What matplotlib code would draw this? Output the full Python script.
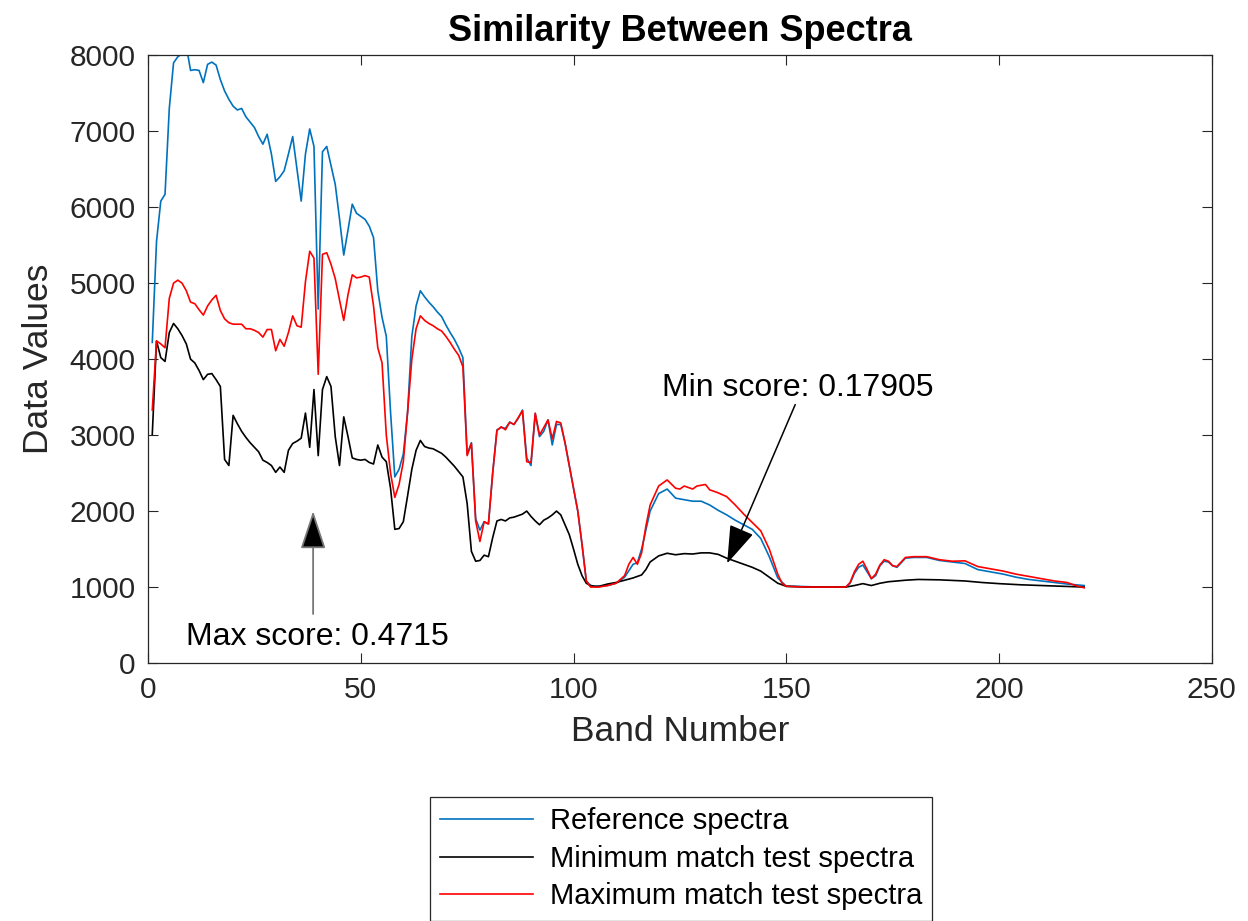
import matplotlib
matplotlib.use("Agg")
import matplotlib.pyplot as plt

# band numbers 1..104 share one grid, the flat tail is kept sparser
bands_head = list(range(1, 105))

ref_head = [
    4220, 5550, 6080, 6170, 7300, 7900, 7980, 8020, 8120, 7800,
    7810, 7800, 7640, 7880, 7910, 7870, 7680, 7530, 7420, 7330,
    7280, 7300, 7190, 7120, 7050, 6930, 6830, 6960, 6700, 6340,
    6400, 6480, 6700, 6930, 6500, 6080, 6700, 7030, 6800, 4660,
    6730, 6800, 6550, 6300, 5850, 5370, 5700, 6040, 5920, 5880,
    5840, 5750, 5600, 4900, 4550, 4300, 3300, 2450, 2550, 2750,
    3300, 4300, 4700, 4900, 4820, 4750, 4690, 4620, 4560, 4450,
    4350, 4260, 4150, 4020, 2750, 2900, 1900, 1750, 1860, 1830,
    2500, 3070, 3100, 3090, 3170, 3140, 3220, 3330, 2700, 2600,
    3280, 2980, 3050, 3200, 2870, 3140, 3140, 2900, 2600, 2300,
    2000, 1560, 1080, 1020,
]
min_head = [
    3010, 4240, 4020, 3970, 4350, 4470, 4400, 4310, 4200, 4000,
    3950, 3850, 3730, 3800, 3810, 3730, 3640, 2680, 2600, 3260,
    3150, 3050, 2970, 2900, 2840, 2780, 2670, 2640, 2600, 2510,
    2580, 2510, 2800, 2890, 2920, 2960, 3290, 2840, 3600, 2730,
    3600, 3770, 3640, 2980, 2600, 3240, 2980, 2700, 2680, 2670,
    2680, 2640, 2620, 2870, 2710, 2650, 2300, 1760, 1770, 1860,
    2200, 2550, 2800, 2930, 2850, 2830, 2820, 2790, 2760, 2710,
    2650, 2590, 2520, 2450, 2100, 1470, 1340, 1350, 1420, 1400,
    1650, 1870, 1890, 1870, 1910, 1920, 1940, 1960, 2000, 1930,
    1870, 1820, 1880, 1910, 1950, 2000, 1950, 1820, 1690, 1500,
    1300, 1150, 1050, 1020,
]
max_head = [
    3330, 4240, 4200, 4150, 4800, 5000, 5040, 5000, 4900, 4750,
    4730, 4650, 4580, 4700, 4780, 4840, 4640, 4530, 4480, 4460,
    4460, 4460, 4400, 4400, 4380, 4350, 4290, 4390, 4390, 4110,
    4260, 4170, 4350, 4570, 4440, 4420, 5020, 5420, 5330, 3800,
    5380, 5400, 5250, 5060, 4780, 4510, 4850, 5110, 5070, 5080,
    5100, 5080, 4700, 4150, 3950, 3000, 2500, 2180, 2350, 2650,
    3300, 4000, 4400, 4570, 4510, 4470, 4440, 4400, 4370, 4300,
    4220, 4130, 4050, 3900, 2730, 2890, 1870, 1600, 1860, 1830,
    2500, 3060, 3110, 3070, 3170, 3140, 3230, 3320, 2650, 2640,
    3290, 3000, 3100, 3200, 2950, 3180, 3160, 2900, 2600, 2300,
    2000, 1560, 1080, 1000,
]

ref_tail_bands = [105, 106, 108, 110, 112, 114, 115, 116, 117, 118, 120, 122, 124, 126,
                  128, 130, 132, 134, 136, 138, 140, 142, 144, 146, 148, 150, 152, 155,
                  158, 161, 164, 165, 166, 167, 168, 169, 170, 171, 172, 173, 174, 175,
                  176, 177, 178, 180, 183, 186, 189, 192, 195, 198, 201, 204, 207, 210,
                  213, 216, 218, 220]
ref_tail = [1010, 1010, 1020, 1050, 1130, 1300, 1320, 1500, 1750, 2000, 2230, 2290, 2170, 2150,
            2130, 2130, 2080, 2010, 1950, 1880, 1820, 1760, 1640, 1400, 1120, 1010, 1010, 1005,
            1000, 1000, 1000, 1050, 1180, 1260, 1290, 1200, 1110, 1150, 1280, 1340, 1330, 1280,
            1260, 1320, 1380, 1390, 1390, 1350, 1330, 1310, 1230, 1200, 1170, 1130, 1100, 1080,
            1060, 1040, 1030, 1020]

max_tail_bands = [105, 106, 108, 110, 112, 113, 114, 115, 116, 117, 118, 120, 122, 124, 125,
                  126, 128, 129, 131, 132, 134, 136, 138, 140, 142, 144, 146, 148, 149, 150,
                  152, 155, 158, 161, 164, 165, 166, 167, 168, 169, 170, 171, 172, 173, 174,
                  175, 176, 177, 178, 180, 183, 186, 189, 192, 195, 198, 201, 204, 207, 210,
                  213, 216, 218, 220]
max_tail = [1000, 1000, 1020, 1050, 1150, 1300, 1390, 1300, 1450, 1800, 2080, 2330, 2410, 2300, 2290,
            2330, 2290, 2330, 2350, 2280, 2240, 2190, 2080, 1960, 1850, 1740, 1500, 1170, 1050, 1010,
            1005, 1000, 1000, 1000, 1000, 1060, 1200, 1300, 1340, 1230, 1110, 1170, 1290, 1360, 1340,
            1280, 1270, 1330, 1390, 1400, 1400, 1360, 1340, 1345, 1270, 1240, 1210, 1170, 1140, 1110,
            1080, 1060, 1020, 990]

min_tail_bands = [105, 106, 108, 110, 112, 114, 116, 117, 118, 120, 122, 124, 126, 128, 130,
                  132, 134, 136, 138, 140, 142, 144, 146, 148, 150, 155, 164, 166, 168, 170,
                  172, 174, 178, 181, 186, 192, 196, 200, 205, 210, 215, 220]
min_tail = [1010, 1010, 1040, 1060, 1090, 1120, 1160, 1230, 1330, 1410, 1445, 1425, 1440, 1435, 1450,
            1450, 1430, 1380, 1340, 1300, 1260, 1210, 1130, 1050, 1010, 1000, 1000, 1020, 1045, 1020,
            1050, 1070, 1090, 1100, 1095, 1080, 1060, 1045, 1030, 1020, 1010, 1000]

labels = ["Reference spectra", "Minimum match test spectra", "Maximum match test spectra"]
max_note = "Max score: 0.4715"
min_note = "Min score: 0.17905"

plt.rcParams["font.family"] = ["Liberation Sans", "DejaVu Sans"]
GRAY = "#262626"

fig = plt.figure(figsize=(12.48, 9.21), dpi=100)
ax = fig.add_axes([0.1186, 0.2801, 0.8524, 0.6599])

ax.plot(bands_head + ref_tail_bands, ref_head + ref_tail, color="#0072BD", lw=1.2, label=labels[0])
ax.plot(bands_head + min_tail_bands, min_head + min_tail, color="black", lw=1.2, label=labels[1])
ax.plot(bands_head + max_tail_bands, max_head + max_tail, color="#FF0000", lw=1.2, label=labels[2])

ax.set_xlim(0, 250)
ax.set_ylim(0, 8000)
ax.set_xticks([0, 50, 100, 150, 200, 250])
ax.set_yticks([0, 1000, 2000, 3000, 4000, 5000, 6000, 7000, 8000])
ax.tick_params(direction="in", length=7.5, width=0.8, top=True, right=True,
               labelsize=21.5, colors=GRAY, pad=9)
for s in ax.spines.values():
    s.set_color(GRAY)
    s.set_linewidth(0.9)

ax.set_xlabel("Band Number", fontsize=25.5, color=GRAY, labelpad=8)
ax.set_ylabel("Data Values", fontsize=25.5, color=GRAY, labelpad=10)
ax.set_title("Similarity Between Spectra", fontsize=26, fontweight="bold", color="black", pad=10)

# score annotations
head = "-|>,head_length=1.2,head_width=0.4"
ax.annotate("", xy=(38.8, 2000), xytext=(38.8, 645),
            arrowprops=dict(arrowstyle=head, mutation_scale=20,
                            edgecolor="#777777", facecolor="black", lw=1.3, shrinkA=0, shrinkB=0))
ax.text(39.8, 340, max_note, ha="center", va="center", fontsize=23, color="black")

ax.annotate("", xy=(136.1, 1311), xytext=(152.1, 3402),
            arrowprops=dict(arrowstyle=head, mutation_scale=20,
                            color="black", lw=1.1, shrinkA=0, shrinkB=0))
ax.text(152.8, 3615, min_note, ha="center", va="center", fontsize=23, color="black")

leg = fig.legend(loc="upper center", bbox_to_anchor=(0.5457, 0.1346), fontsize=21,
                 frameon=True, fancybox=False, edgecolor=GRAY, framealpha=1,
                 handlelength=3.2, handletextpad=0.55, labelspacing=0.33,
                 borderpad=0.35, borderaxespad=0)
leg.get_frame().set_linewidth(0.9)

fig.savefig("out.png", dpi=100)
plt.close(fig)
